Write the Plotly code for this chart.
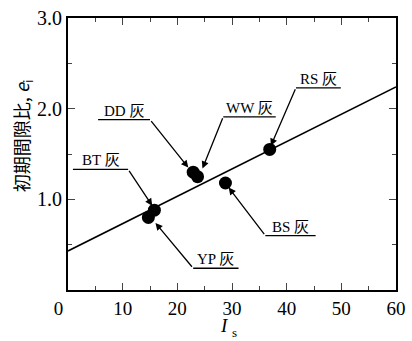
import plotly.graph_objects as go

# ---- data ----
ash_names = ["YP", "BT", "DD", "WW", "BS", "RS"]
Is_values = [14.7, 15.8, 22.9, 23.7, 28.8, 36.9]
ei_values = [0.80, 0.88, 1.30, 1.25, 1.18, 1.55]

fit_x = [0, 60]
fit_y = [0.43, 2.24]

x_ticks = [0, 10, 20, 30, 40, 50, 60]
x_tick_labels = ["0\u2003", "10", "20", "30", "40", "50", "60"]
y_ticks = [1.0, 2.0, 3.0]
y_tick_labels = ["1.0", "2.0", "3.0"]

# ---- label layout (underline x0, x1, y ; tail side ; arrow tip x, y) ----
label_layout = {
    "DD": dict(u0=5.5, u1=15.0, uy=1.88, tail="right", tip=(22.0, 1.35)),
    "WW": dict(u0=28.4, u1=38.0, uy=1.91, tail="left", tip=(24.6, 1.34)),
    "RS": dict(u0=41.7, u1=49.9, uy=2.23, tail="left", tip=(37.1, 1.59)),
    "BS": dict(u0=36.1, u1=45.3, uy=0.60, tail="left", tip=(29.4, 1.13)),
    "BT": dict(u0=0.9, u1=11.0, uy=1.33, tail="right", tip=(15.4, 0.93)),
    "YP": dict(u0=22.9, u1=31.2, uy=0.24, tail="left", tip=(16.0, 0.74)),
}

serif = "Liberation Serif, Times New Roman, serif"
label_font = "Liberation Serif, Noto Sans CJK JP, serif"

fig = go.Figure()
fig.add_trace(go.Scatter(x=fit_x, y=fit_y, mode="lines",
                         line=dict(color="black", width=1.6),
                         showlegend=False, hoverinfo="skip"))
fig.add_trace(go.Scatter(x=Is_values, y=ei_values, mode="markers",
                         marker=dict(color="black", size=13),
                         text=ash_names, showlegend=False))

shapes = []
annotations = []
for name in ash_names:
    L = label_layout[name]
    shapes.append(dict(type="line", xref="x", yref="y",
                       x0=L["u0"], x1=L["u1"], y0=L["uy"], y1=L["uy"],
                       line=dict(color="black", width=1.3)))
    tail_x = L["u1"] if L["tail"] == "right" else L["u0"]
    annotations.append(dict(x=L["tip"][0], y=L["tip"][1], xref="x", yref="y",
                            ax=tail_x, ay=L["uy"], axref="x", ayref="y",
                            text="", showarrow=True, arrowhead=2,
                            arrowsize=1.1, arrowwidth=1.3, arrowcolor="black",
                            standoff=0, startstandoff=0))
    annotations.append(dict(x=(L["u0"] + L["u1"]) / 2, y=L["uy"], xref="x", yref="y",
                            text=name + " 灰", showarrow=False,
                            xanchor="center", yanchor="bottom", yshift=-1,
                            font=dict(family=label_font, size=15, color="black")))

# axis titles as annotations (placed like the reference)
annotations.append(dict(xref="paper", yref="paper", x=-0.14, y=0.566,
                        text="初期間隙比, <i>e</i><sub>i</sub>", textangle=-90,
                        showarrow=False, xanchor="center", yanchor="middle",
                        font=dict(family="Noto Sans CJK JP, " + serif, size=18,
                                  color="black")))
annotations.append(dict(xref="paper", yref="paper", x=0.496, y=-0.13,
                        text="<i>I</i>", showarrow=False,
                        xanchor="right", yanchor="middle",
                        font=dict(family=serif, size=19, color="black")))
annotations.append(dict(xref="paper", yref="paper", x=0.494, y=-0.158,
                        text="s", showarrow=False,
                        xanchor="left", yanchor="middle",
                        font=dict(family=serif, size=13, color="black")))

fig.update_layout(
    width=412, height=341,
    margin=dict(l=68, r=16, t=18, b=51),
    paper_bgcolor="white", plot_bgcolor="white",
    shapes=shapes, annotations=annotations,
    xaxis=dict(range=[0, 60], tickvals=x_ticks, ticktext=x_tick_labels,
               ticks="inside", ticklen=7, automargin=False,
               tickwidth=1.3, showline=True, linewidth=1.8, linecolor="black",
               mirror="ticks", showgrid=False, zeroline=False,
               minor=dict(dtick=5, tick0=0, ticks="inside", ticklen=4, tickwidth=1.1),
               tickfont=dict(family=serif, size=19, color="black")),
    yaxis=dict(range=[0, 3], tickvals=y_ticks, ticktext=y_tick_labels,
               ticks="inside", ticklen=7, tickwidth=1.3, showline=True,
               automargin=False,
               linewidth=1.8, linecolor="black", mirror="ticks",
               showgrid=False, zeroline=False,
               minor=dict(dtick=0.5, tick0=0, ticks="inside", ticklen=4, tickwidth=1.1),
               tickfont=dict(family=serif, size=20, color="black")),
)

fig.write_html("out.html", config={"displayModeBar": False})

# remove the default 8px page margin so the figure sits at the window origin
with open("out.html", encoding="utf-8") as f:
    html = f.read()
html = html.replace("<head>", "<head><style>html,body{margin:0;padding:0;overflow:hidden;}</style>", 1)
with open("out.html", "w", encoding="utf-8") as f:
    f.write(html)
